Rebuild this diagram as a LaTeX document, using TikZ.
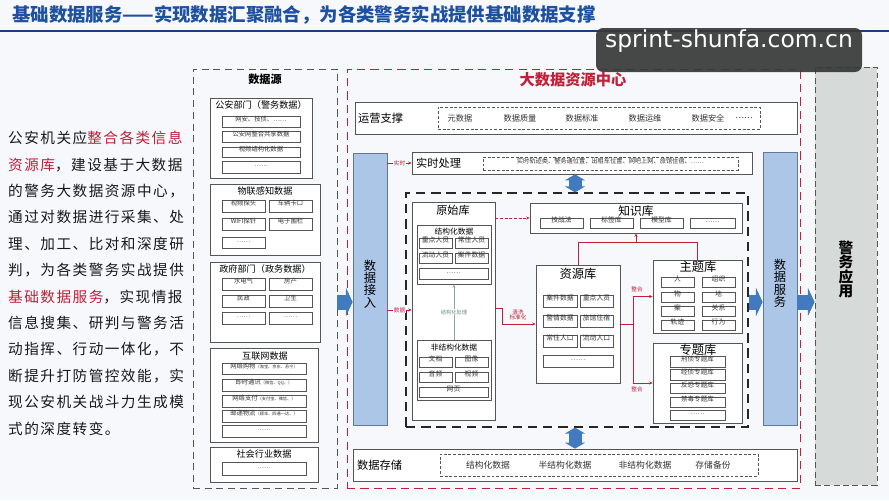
\documentclass[tikz,border=0pt]{standalone}
\usepackage{fontspec}
\setmainfont{Noto Sans CJK SC}
\newfontfamily\wmfont{DejaVu Sans}
\usetikzlibrary{fit,arrows.meta}
\newcommand\sz[1]{\fontsize{#1}{#1}\selectfont}
\newcommand\hl[1]{\textcolor{hired}{#1}}
\definecolor{bg}{RGB}{246,248,251}
\definecolor{titleblue}{RGB}{30,80,160}
\definecolor{hired}{RGB}{192,32,56}
\definecolor{linegray}{RGB}{85,85,85}
\definecolor{pillarblue}{RGB}{172,198,232}
\definecolor{pillaredge}{RGB}{100,120,150}
\definecolor{fatblue}{RGB}{65,122,190}
\definecolor{appgray}{RGB}{214,218,217}
\definecolor{procgreen}{RGB}{140,170,165}
\tikzset{
  intro/.style={anchor=base west, inner sep=0pt, font=\sz{12.5}\addfontfeature{LetterSpace=10}, text=black!90},
  outerdash/.style={draw=linegray, line width=0.8pt, dash pattern=on 6pt off 4pt, inner sep=0pt},
  grp/.style={draw=linegray, line width=0.6pt, fill=white, inner sep=0pt},
  cell/.style={draw=linegray, line width=0.45pt, inner sep=0pt, font=\sz{5.4}, text=black!80},
  grptitle/.style={inner sep=0pt, font=\sz{7.8}},
  subtitle/.style={inner sep=0pt, font=\sz{6.6}},
  libtitle/.style={inner sep=0pt, font=\sz{10.5}},
  rowlabel/.style={anchor=west, inner sep=0pt, font=\sz{9.6}},
  rowitem/.style={inner sep=0pt, font=\sz{7}, text=black!80},
  rowdash/.style={draw=linegray, dash pattern=on 2.5pt off 1.5pt, line width=0.5pt, inner sep=0pt},
  pillar/.style={draw=pillaredge, fill=pillarblue, line width=0.6pt, inner sep=0pt, align=center, font=\fontsize{10.5}{10.5}\selectfont},
  fatarrow/.style={fatblue, line width=0.45cm, -{Triangle[width=0.84cm,length=0.2cm]}},
  fatboth/.style={fatblue, line width=0.39cm, {Triangle[width=0.6cm,length=0.18cm]}-{Triangle[width=0.6cm,length=0.18cm]}},
  redarrow/.style={hired, line width=0.6pt, -{Stealth[length=3pt,width=2.6pt]}},
  redline/.style={hired, line width=0.6pt},
  redlabel/.style={fill=bg, text=hired, font=\sz{4.8}, inner sep=0.6pt, align=center},
}
\begin{document}
\begin{tikzpicture}[x=0.03cm, y=-0.03cm]
\fill[bg] (0,0) rectangle (889,500);
\useasboundingbox (0,0) rectangle (889,500);

\node[anchor=west, inner sep=0pt, font=\sz{15.7}\bfseries, text=titleblue] (title) at (12,15) {基础数据服务——实现数据汇聚融合，为各类警务实战提供基础数据支撑};
\draw[titleblue!80!black, line width=1.5pt] (0,31) -- (889,31);

\foreach \ln [count=\i from 0] in {公安机关应\hl{整合各类信息}, \hl{资源库}，建设基于大数据, 的警务大数据资源中心，, 通过对数据进行采集、处, 理、加工、比对和深度研, 判，为各类警务实战提供, \hl{基础数据服务}，实现情报, 信息搜集、研判与警务活, 动指挥、行动一体化，不, 断提升打防管控效能，实, 现公安机关战斗力生成模, 式的深度转变。}
  \node[intro] (intro\i) at (8,{143.6+26.4*\i}) {\ln};

% data sources
\node[outerdash, fit={(193,69) (337,488)}] (src) {};
\node[inner sep=0pt, font=\sz{9.5}\bfseries] (srctitle) at (265,79) {数据源};

\node[grp, fit={(210,98) (312,178)}] (police) {};
\node[grptitle] (policetitle) at (261,105) {公安部门（警务数据）};
\node[cell, fit={(222,116) (300,127)}] (p1) {网安、技侦、……};
\node[cell, fit={(222,131) (300,142)}] (p2) {公安网整合共享数据};
\node[cell, fit={(222,147) (300,157)}] (p3) {视频结构化数据};
\node[cell, fit={(222,161) (300,173)}] (p4) {……};

\node[grp, fit={(210,184) (320,255)}] (iot) {};
\node[grptitle] (iottitle) at (265,191) {物联感知数据};
\node[cell, fit={(222,200) (265,212)}] (i1) {视频探头};
\node[cell, fit={(269,200) (312,212)}] (i2) {车辆卡口};
\node[cell, fit={(222,218) (265,230)}] (i3) {WIFI探针};
\node[cell, fit={(269,218) (312,230)}] (i4) {电子围栏};
\node[cell, fit={(222,237) (265,248)}] (i5) {……};

\node[grp, fit={(210,262) (320,342)}] (gov) {};
\node[grptitle] (govtitle) at (265,269) {政府部门（政务数据）};
\node[cell, fit={(222,278) (265,290)}] (g1) {水电气};
\node[cell, fit={(269,278) (312,290)}] (g2) {房产};
\node[cell, fit={(222,295) (265,307)}] (g3) {民政};
\node[cell, fit={(269,295) (312,307)}] (g4) {卫生};
\node[cell, fit={(222,312) (265,324)}] (g5) {……};
\node[cell, fit={(269,312) (312,324)}] (g6) {……};

\node[grp, fit={(210,348) (318,442)}] (web) {};
\node[grptitle] (webtitle) at (265,356) {互联网数据};
\node[cell, fit={(222,363) (306,374)}] (w1) {网络购物{\sz{3.6}（淘宝、京东、苏宁）}};
\node[cell, fit={(222,379) (306,391)}] (w2) {即时通讯{\sz{3.6}（微信、QQ、）}};
\node[cell, fit={(222,395) (306,407)}] (w3) {网络支付{\sz{3.6}（支付宝、微信、）}};
\node[cell, fit={(222,410) (306,422)}] (w4) {邮递物流{\sz{3.6}（顺丰、四通一达、）}};
\node[cell, fit={(222,425) (306,437)}] (w5) {……};

\node[grp, fit={(210,447) (318,482)}] (soc) {};
\node[grptitle] (soctitle) at (264,454) {社会行业数据};
\node[cell, fit={(222,462) (306,475)}] (s1) {……};

% big data resource centre
\node[draw=hired, line width=0.8pt, dash pattern=on 7pt off 4.5pt, inner sep=0pt, fit={(347,69) (800,488)}] (bdc) {};
\node[inner sep=0pt, font=\sz{13}\bfseries, text=hired] (bdctitle) at (573,80) {大数据资源中心};

\node[grp, fit={(355,102) (797,134)}] (ops) {};
\node[rowlabel] (opslabel) at (358,118) {运营支撑};
\node[rowdash, fit={(438,107) (760,129)}] (opsdash) {};
\node[rowitem] (o1) at (460,118) {元数据};
\node[rowitem] (o2) at (520,118) {数据质量};
\node[rowitem] (o3) at (582,118) {数据标准};
\node[rowitem] (o4) at (645,118) {数据运维};
\node[rowitem] (o5) at (708,118) {数据安全};
\node[rowitem] (o6) at (744,118) {……};

\node[pillar, fit={(353,153) (387,425)}] (access) {数\\据\\接\\入};
\node[pillar, fit={(763,152) (797,425)}] (service) {数\\据\\服\\务};
\node[draw=linegray, dash pattern=on 5pt off 3pt, line width=0.7pt, fill=appgray, inner sep=0pt, align=center, font=\fontsize{12.5}{12}\selectfont\bfseries, fit={(815,67) (877,485)}] (app) {警\\务\\应\\用};

\node[grp, fit={(412,152) (752,174)}] (rt) {};
\node[rowlabel] (rtlabel) at (416,163) {实时处理};
\node[rowdash, font=\sz{5.3}, text=black!80, fit={(483,157) (738,170)}] (rtdash) {实时轨迹类、警务通位置、出租车位置、网吧上网、旅馆住宿、……};

\node[draw=black!85, line width=1pt, dash pattern=on 8pt off 5pt, inner sep=0pt, fit={(406,193) (748,427)}] (core) {};

% raw library
\node[grp, fit={(412,202) (495,420)}] (raw) {};
\node[libtitle, font=\sz{9.5}] (rawtitle) at (453,210) {原始库};
\node[grp, fit={(417,225) (491,284)}] (struct) {};
\node[subtitle] (structtitle) at (454,232) {结构化数据};
\node[cell, font=\sz{5.8}, fit={(419,238) (452,248)}] (st1) {重点人员};
\node[cell, font=\sz{5.8}, fit={(455,238) (488,248)}] (st2) {常住人员};
\node[cell, font=\sz{5.8}, fit={(419,253) (452,263)}] (st3) {流动人员};
\node[cell, font=\sz{5.8}, fit={(455,253) (488,263)}] (st4) {案件数据};
\node[cell, font=\sz{5.8}, fit={(419,268) (488,279)}] (st5) {……};
\node[grp, fit={(417,340) (491,400)}] (unstruct) {};
\node[subtitle] (unstructtitle) at (454,348) {非结构化数据};
\node[cell, font=\sz{5.8}, fit={(419,357) (452,367)}] (u1) {文档};
\node[cell, font=\sz{5.8}, fit={(455,357) (488,367)}] (u2) {图像};
\node[cell, font=\sz{5.8}, fit={(419,372) (452,382)}] (u3) {音频};
\node[cell, font=\sz{5.8}, fit={(455,372) (488,382)}] (u4) {视频};
\node[cell, font=\sz{5.8}, fit={(419,387) (488,397)}] (u5) {网页};

% knowledge library
\node[grp, fit={(530,203) (742,233)}] (know) {};
\node[libtitle, font=\sz{10}] (knowtitle) at (636,211) {知识库};
\node[cell, font=\sz{5.8}, fit={(540,218) (583,228)}] (k1) {技战法};
\node[cell, font=\sz{5.8}, fit={(590,218) (633,228)}] (k2) {标签库};
\node[cell, font=\sz{5.8}, fit={(640,218) (683,228)}] (k3) {模型库};
\node[cell, font=\sz{5.8}, fit={(690,218) (735,228)}] (k4) {……};

% resource library
\node[grp, fit={(536,265) (620,383)}] (res) {};
\node[libtitle] (restitle) at (578,274) {资源库};
\node[cell, font=\sz{5.8}, fit={(543,295) (577,307)}] (r1) {案件数据};
\node[cell, font=\sz{5.8}, fit={(580,295) (613,307)}] (r2) {重点人员};
\node[cell, font=\sz{5.8}, fit={(543,315) (577,327)}] (r3) {警情数据};
\node[cell, font=\sz{5.8}, fit={(580,315) (613,327)}] (r4) {旅馆住宿};
\node[cell, font=\sz{5.8}, fit={(543,335) (577,347)}] (r5) {常住人口};
\node[cell, font=\sz{5.8}, fit={(580,335) (613,347)}] (r6) {流动人口};
\node[cell, font=\sz{5.8}, fit={(543,355) (613,367)}] (r7) {……};

% topic library
\node[grp, fit={(653,260) (742,333)}] (topic) {};
\node[libtitle] (topictitle) at (698,267) {主题库};
\node[cell, font=\sz{5.8}, fit={(661,277) (694,287)}] (t1) {人};
\node[cell, font=\sz{5.8}, fit={(702,277) (735,287)}] (t2) {组织};
\node[cell, font=\sz{5.8}, fit={(661,292) (694,302)}] (t3) {物};
\node[cell, font=\sz{5.8}, fit={(702,292) (735,302)}] (t4) {地};
\node[cell, font=\sz{5.8}, fit={(661,306) (694,316)}] (t5) {案};
\node[cell, font=\sz{5.8}, fit={(702,306) (735,316)}] (t6) {关系};
\node[cell, font=\sz{5.8}, fit={(661,320) (694,330)}] (t7) {轨迹};
\node[cell, font=\sz{5.8}, fit={(702,320) (735,330)}] (t8) {行为};

% special library
\node[grp, fit={(653,343) (742,423)}] (special) {};
\node[libtitle] (specialtitle) at (698,350) {专题库};
\node[cell, font=\sz{5.6}, fit={(670,356) (725,367)}] (z1) {刑侦专题库};
\node[cell, font=\sz{5.6}, fit={(670,369) (725,380)}] (z2) {经侦专题库};
\node[cell, font=\sz{5.6}, fit={(670,383) (725,393)}] (z3) {反恐专题库};
\node[cell, font=\sz{5.6}, fit={(670,397) (725,407)}] (z4) {禁毒专题库};
\node[cell, font=\sz{5.6}, fit={(670,410) (725,420)}] (z5) {……};

% storage
\node[grp, fit={(353,449) (797,481)}] (store) {};
\node[rowlabel] (storelabel) at (357,465) {数据存储};
\node[rowdash, fit={(440,454) (758,476)}] (storedash) {};
\node[rowitem, font=\sz{7.5}] (d1) at (488,465) {结构化数据};
\node[rowitem, font=\sz{7.5}] (d2) at (565,465) {半结构化数据};
\node[rowitem, font=\sz{7.5}] (d3) at (645,465) {非结构化数据};
\node[rowitem, font=\sz{7.5}] (d4) at (713,465) {存储备份};

% connectors
\coordinate (fy) at (0,302);
\coordinate (ax) at (575,0);
\coordinate (dy) at (0,310);
\coordinate (cy) at (0,308);
\coordinate (bx) at (502,0);
\coordinate (jx) at (633,0);
\coordinate (ty) at (0,242);

\draw[fatarrow] (src.east |- fy) -- (access.west |- fy);
\draw[fatarrow] (core.east |- fy) -- (service.west |- fy);
\draw[fatarrow] (service.east |- fy) -- (app.west |- fy);
\draw[fatboth] (rt.south -| ax) -- (core.north -| ax);
\draw[fatboth] (core.south -| ax) -- (store.north -| ax);

\draw[redarrow] (access.east |- rt.west) -- node[redlabel] {实时} (rt.west);
\draw[redarrow] (access.east |- dy) -- node[redlabel] {数据} (raw.west |- dy);
\draw[redarrow, dash pattern=on 2.5pt off 1.5pt] (raw.east |- know.west) -- (know.west);
\draw[procgreen, line width=0.6pt, -{Stealth[length=3pt,width=2.6pt]}] (unstruct.north) -- node[fill=white, inner sep=0.5pt, font=\sz{4.5}, text=procgreen!80!black] {结构化处理} (struct.south);
\draw[redarrow] (raw.east |- cy) -| (bx |- res.west) -- (res.west);
\node[redlabel, fill=none] (cleanlabel) at (518,315) {清洗\\标准化};
\draw[redline] (res.east) -- (jx |- res.east);
\draw[redarrow] (jx |- res.east) |- (topic.west);
\draw[redarrow] (jx |- res.east) |- (special.west);
\node[redlabel, fill=none] (merge1) at (637,289) {整合};
\node[redlabel, fill=none] (merge2) at (637,389) {整合};
\draw[redline] (res.north) |- (topic.north |- ty) -- (topic.north);
\draw[redarrow] (know.south |- ty) -- (know.south);

% watermark
\node[fill=black!78, fill opacity=0.92, text opacity=1, rounded corners=6pt, inner sep=0pt, text=white, font=\wmfont\fontsize{20}{20}\selectfont, fit={(596,28) (862,72)}] (wm) {sprint-shunfa.com.cn};
\end{tikzpicture}
\end{document}
